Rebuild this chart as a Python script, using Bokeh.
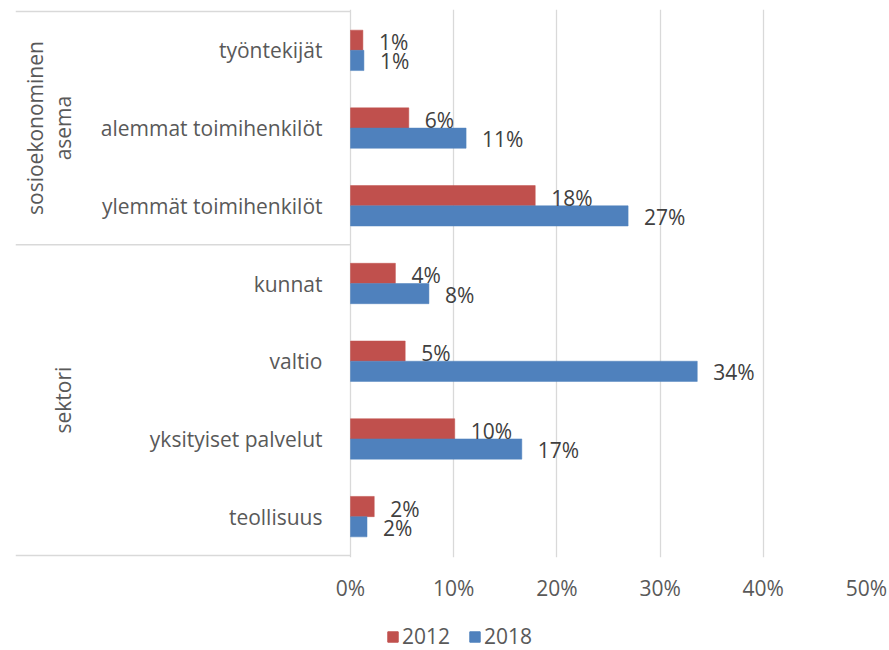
import math
from bokeh.plotting import figure
from bokeh.layouts import column
from bokeh.models import (Range1d, FixedTicker, CustomJSTickFormatter, Legend,
                          LegendItem, ColumnDataSource)
from bokeh.embed import file_html
from bokeh.resources import INLINE
from bokeh.core.properties import value

# ---------------- data ----------------
categories = ["työntekijät", "alemmat toimihenkilöt", "ylemmät toimihenkilöt",
              "kunnat", "valtio", "yksityiset palvelut", "teollisuus"]
group_names = [["sosioekonominen", "asema"], ["sektori"]]
group_sizes = [3, 4]
series_names = ["2012", "2018"]
values_2012 = [1.2, 5.65, 17.9, 4.35, 5.3, 10.1, 2.3]
values_2018 = [1.3, 11.2, 26.9, 7.6, 33.6, 16.6, 1.6]
x_ticks = [0, 10, 20, 30, 40, 50]

# ---------------- style ----------------
FONT = value("Open Sans")
FS = "21px"
RED = "#C0504D"
BLUE = "#4F81BD"
GRID = "#D9D9D9"
TXT = "#595959"
VAL = "#404040"

n = len(categories)
y_center = [n - i - 0.5 for i in range(n)]
bar_h = 0.26

W = 889
H_MAIN, H_LEG = 610, 40
left_px = 15         # frame left
zero_px = 350        # x = 0 position
right_border = 23
frame_w = W - left_px - right_border
px_per_unit = (frame_w - (zero_px - left_px)) / x_ticks[-1]
x_start = -(zero_px - left_px) / px_per_unit

top_border = 9
frame_bottom = 557
bottom_border = H_MAIN - frame_bottom
frame_h = H_MAIN - top_border - bottom_border
py_per_unit = (frame_h - 4) / n
pad = 2 / py_per_unit

p = figure(width=W, height=H_MAIN, output_backend="svg", toolbar_location=None,
           x_range=Range1d(x_start, x_ticks[-1]), y_range=Range1d(-pad, n + pad),
           y_axis_location=None, min_border_left=left_px, min_border_right=right_border,
           min_border_top=top_border, min_border_bottom=bottom_border)
p.outline_line_color = None
p.background_fill_color = "white"
p.border_fill_color = "white"

# x axis
xa = p.xaxis[0]
xa.ticker = FixedTicker(ticks=x_ticks)
xa.formatter = CustomJSTickFormatter(code="return tick + '%';")
xa.axis_line_color = None
xa.major_tick_line_color = None
xa.minor_tick_line_color = None
xa.major_tick_out = 0
xa.major_tick_in = 0
xa.major_label_standoff = 16
xa.major_label_text_font = "Open Sans"
xa.major_label_text_font_size = FS
xa.major_label_text_color = TXT

p.xgrid.ticker = FixedTicker(ticks=x_ticks)
p.xgrid.grid_line_color = GRID
p.xgrid.grid_line_width = 1.3
p.ygrid.grid_line_color = None

# category region lines
bounds = [n]
acc = n
for s in group_sizes:
    acc -= s
    bounds.append(acc)
p.segment(x0=[x_start] * len(bounds), x1=[0] * len(bounds), y0=bounds, y1=bounds,
          line_color=GRID, line_width=1.5)

# bars
src = ColumnDataSource(dict(
    y12=[y + bar_h / 2 for y in y_center],
    y18=[y - bar_h / 2 for y in y_center],
    v12=values_2012, v18=values_2018,
    l12=[f"{round(v)}%" for v in values_2012],
    l18=[f"{round(v)}%" for v in values_2018],
    cat=categories, yc=y_center,
))
p.hbar(y="y12", right="v12", left=0, height=bar_h, source=src,
       fill_color=RED, line_color=RED, line_width=0.5)
p.hbar(y="y18", right="v18", left=0, height=bar_h, source=src,
       fill_color=BLUE, line_color=BLUE, line_width=0.5)

# value labels
p.text(x="v12", y="y12", text="l12", source=src, x_offset=16, y_offset=2,
       text_align="left", text_baseline="middle", text_font=FONT,
       text_font_size=FS, text_color=VAL)
p.text(x="v18", y="y18", text="l18", source=src, x_offset=16, y_offset=1,
       text_align="left", text_baseline="middle", text_font=FONT,
       text_font_size=FS, text_color=VAL)

# category labels
p.text(x=0, y="yc", text="cat", source=src, x_offset=-28, y_offset=0,
       text_align="right", text_baseline="middle", text_font=FONT,
       text_font_size=FS, text_color=TXT)

# group labels (rotated)
acc = n
for names, s in zip(group_names, group_sizes):
    gc = acc - s / 2
    acc -= s
    k = len(names)
    for j, nm in enumerate(names):
        off = -287.5 - (k - 1 - j) * 28.5
        p.text(x=[0], y=[gc], text=[nm], x_offset=off, angle=math.pi / 2,
               text_align="center", text_baseline="middle", text_font=FONT,
               text_font_size=FS, text_color=TXT)

# ---------------- legend strip ----------------
# same series drawn out of view, only so that the legend has its swatches
pl = figure(width=W, height=H_LEG, output_backend="svg", toolbar_location=None,
            x_axis_location=None, y_axis_location=None,
            x_range=Range1d(0, x_ticks[-1]), y_range=Range1d(n + 1, n + 2),
            min_border_left=0, min_border_right=0, min_border_top=0, min_border_bottom=0)
pl.outline_line_color = None
pl.grid.grid_line_color = None
pl.border_fill_color = "white"
pl.background_fill_color = "white"
g12 = pl.hbar(y="y12", right="v12", left=0, height=bar_h, source=src,
              fill_color=RED, line_color=RED)
g18 = pl.hbar(y="y18", right="v18", left=0, height=bar_h, source=src,
              fill_color=BLUE, line_color=BLUE)
legend = Legend(items=[LegendItem(label=series_names[0], renderers=[g12]),
                       LegendItem(label=series_names[1], renderers=[g18])],
                orientation="horizontal", location=(371, 0),
                glyph_width=13, glyph_height=13, label_standoff=3, spacing=18,
                padding=0, margin=0, border_line_color=None,
                background_fill_alpha=0, label_text_font="Open Sans",
                label_text_font_size=FS, label_text_color=TXT)
pl.add_layout(legend)

open("out.html", "w").write(file_html(column(p, pl), INLINE))
